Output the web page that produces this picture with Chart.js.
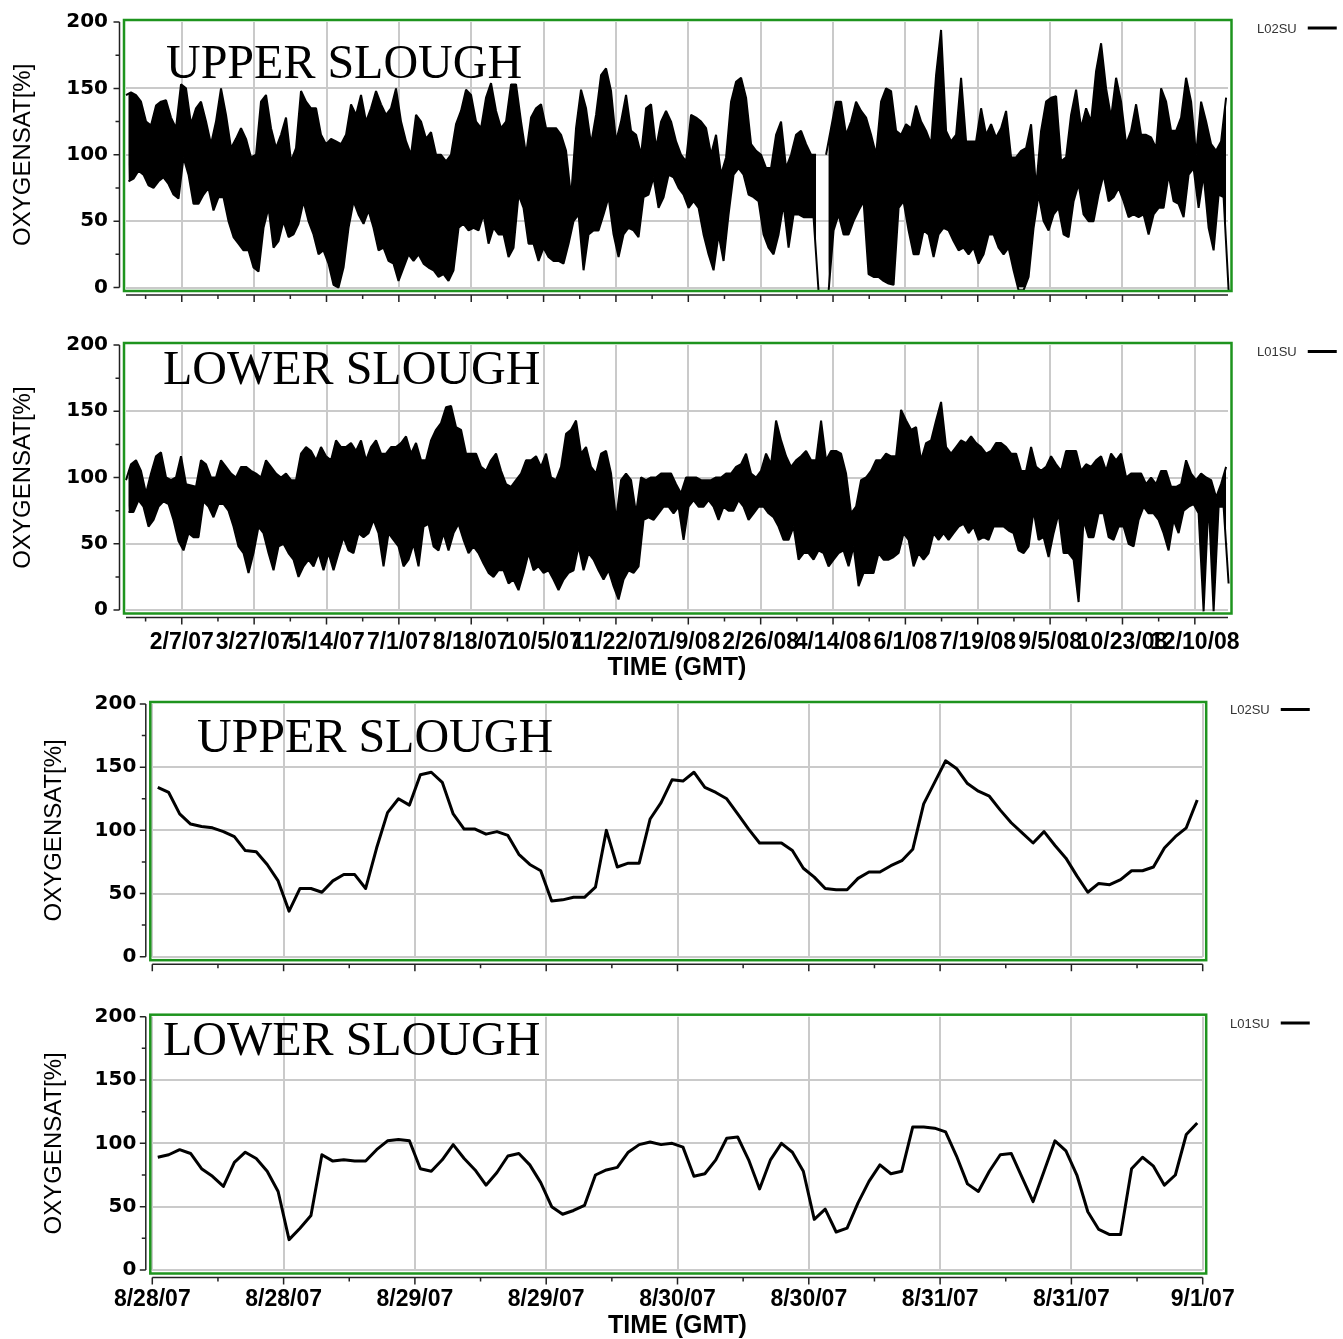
<!DOCTYPE html>
<html>
<head>
<meta charset="utf-8">
<title>Oxygen saturation - upper and lower slough</title>
<script src="https://cdn.jsdelivr.net/npm/chart.js@4.4.1/dist/chart.umd.min.js"></script>
<style>
  html, body { margin: 0; padding: 0; background: #fff; overflow: hidden; }
  body { width: 1343px; height: 1339px; position: relative; }
  canvas { position: absolute; left: 0; }
</style>
</head>
<body>
<canvas id="upperLong" width="1343" height="310" style="top:0px"></canvas>
<canvas id="lowerLong" width="1343" height="372" style="top:318px"></canvas>
<canvas id="upperShort" width="1343" height="300" style="top:690px"></canvas>
<canvas id="lowerShort" width="1343" height="360" style="top:990px"></canvas>
<script>
// ---- tick labels ----
const longTickLabels = ['2/7/07', '3/27/07', '5/14/07', '7/1/07', '8/18/07', '10/5/07', '11/22/07',
    '1/9/08', '2/26/08', '4/14/08', '6/1/08', '7/19/08', '9/5/08', '10/23/08', '12/10/08'];
const shortTickHours = [0, 12, 24, 36, 48, 60, 72, 84, 96];
const shortTickLabels = ['8/28/07', '8/28/07', '8/29/07', '8/29/07', '8/30/07', '8/30/07', '8/31/07', '8/31/07', '9/1/07'];

// ---- long record 1/1/07 - 1/1/09: max and min reading in each bin ----
const LONG_BIN_DAYS = 3.317;
const upperLongHigh = [
    145, 147, 145, 140, 125, 122, 137, 140, 141, 128, 120, 153, 150, 123, 135, 140, 125, 108, 125, 150,
    130, 105, 112, 120, 112, 98, 100, 140, 145, 120, 105, 115, 128, 95, 105, 148, 140, 135, 135, 115,
    108, 112, 110, 108, 115, 138, 130, 145, 125, 135, 148, 138, 130, 135, 150, 125, 110, 100, 130, 125,
    112, 117, 100, 100, 95, 100, 123, 133, 149, 145, 125, 120, 143, 154, 133, 120, 125, 153, 153, 125,
    100, 128, 135, 138, 120, 120, 120, 115, 103, 68, 120, 149, 135, 108, 130, 160, 165, 148, 110, 125,
    145, 118, 115, 100, 135, 138, 105, 125, 133, 125, 110, 100, 95, 130, 128, 125, 120, 100, 115, 85,
    98, 140, 155, 158, 143, 108, 103, 100, 90, 90, 115, 125, 90, 100, 115, 118, 108, 100, 100, null,
    100, 120, 140, 140, 115, 125, 140, 133, 128, 115, 100, 140, 150, 148, 118, 115, 123, 120, 137, 125,
    118, 108, 160, 194, 118, 110, 115, 158, 110, 110, 110, 135, 115, 123, 113, 120, 133, 98, 98, 103,
    105, 123, 75, 118, 140, 143, 144, 95, 98, 130, 149, 120, 135, 125, 163, 184, 150, 128, 158, 140,
    108, 118, 138, 115, 115, 113, 105, 150, 140, 118, 118, 128, 158, 140, 100, 140, 125, 108, 103, 110,
    143
];
const upperLongLow = [
    80, 82, 88, 85, 77, 75, 80, 83, 78, 70, 67, 98, 85, 63, 63, 70, 75, 58, 68, 68,
    50, 38, 33, 28, 28, 15, 12, 45, 60, 30, 35, 50, 38, 40, 48, 65, 50, 40, 25, 28,
    18, 2, 0, 15, 45, 65, 55, 48, 58, 45, 28, 30, 20, 18, 5, 15, 25, 20, 25, 18,
    15, 13, 8, 10, 5, 13, 45, 48, 43, 45, 43, 55, 33, 45, 40, 40, 23, 30, 70, 60,
    33, 33, 20, 30, 23, 20, 20, 18, 33, 50, 55, 13, 40, 43, 43, 55, 68, 40, 23, 40,
    45, 43, 38, 68, 70, 83, 60, 68, 85, 83, 75, 70, 60, 65, 60, 40, 25, 13, 40, 20,
    55, 85, 90, 85, 70, 68, 65, 40, 30, 25, 40, 63, 30, 55, 55, 53, 53, 53, -3, null,
    -3, 43, 55, 40, 40, 50, 58, 65, 10, 8, 8, 5, 3, 2, 60, 65, 43, 25, 25, 43,
    40, 23, 40, 45, 43, 35, 28, 30, 25, 30, 18, 25, 40, 40, 30, 25, 30, 13, -2, -2,
    8, 45, 70, 50, 43, 55, 60, 40, 38, 65, 78, 55, 50, 50, 70, 85, 65, 68, 75, 65,
    53, 55, 53, 55, 40, 55, 60, 60, 85, 65, 63, 53, 85, 90, 60, 85, 45, 28, 70, 68,
    -2
];
const lowerLongHigh = [
    98, 110, 113, 105, 88, 103, 116, 119, 100, 98, 100, 116, 95, 94, 93, 113, 110, 100, 100, 113,
    108, 103, 100, 108, 108, 105, 103, 100, 113, 108, 103, 100, 103, 98, 98, 118, 123, 120, 113, 123,
    116, 113, 128, 123, 123, 126, 120, 128, 113, 123, 128, 118, 118, 123, 123, 126, 131, 118, 126, 113,
    113, 128, 136, 141, 153, 154, 138, 136, 118, 118, 118, 108, 105, 113, 118, 105, 95, 93, 98, 103,
    113, 113, 116, 108, 118, 100, 98, 108, 133, 136, 143, 118, 123, 108, 103, 118, 120, 103, 68, 98,
    103, 98, 73, 100, 98, 100, 100, 103, 103, 103, 95, 88, 100, 100, 100, 98, 98, 98, 100, 100,
    103, 103, 108, 110, 118, 103, 100, 105, 118, 110, 143, 128, 116, 108, 113, 116, 120, 113, 113, 143,
    113, 120, 120, 118, 103, 73, 78, 98, 100, 105, 113, 113, 118, 116, 116, 151, 143, 136, 138, 113,
    126, 128, 143, 157, 123, 118, 123, 128, 126, 131, 126, 123, 118, 120, 126, 126, 123, 118, 118, 105,
    105, 123, 108, 105, 108, 116, 110, 105, 120, 120, 120, 105, 110, 108, 113, 116, 105, 118, 113, 118,
    100, 103, 103, 103, 95, 100, 95, 105, 105, 93, 93, 95, 113, 103, 98, 103, 100, 98, 85, 95,
    108
];
const lowerLongLow = [
    74, 74, 83, 78, 63, 68, 78, 82, 80, 68, 52, 45, 58, 55, 55, 82, 78, 70, 80, 80,
    75, 63, 48, 43, 28, 43, 63, 58, 43, 30, 48, 50, 43, 38, 25, 33, 38, 33, 43, 30,
    43, 30, 43, 55, 45, 43, 58, 55, 58, 68, 58, 33, 58, 53, 48, 33, 38, 50, 33, 63,
    65, 48, 45, 58, 45, 58, 65, 53, 43, 48, 43, 35, 28, 25, 30, 30, 20, 23, 15, 28,
    43, 30, 33, 28, 30, 23, 15, 23, 28, 30, 48, 30, 43, 38, 30, 23, 30, 18, 8, 23,
    30, 28, 33, 68, 70, 68, 73, 78, 78, 73, 78, 53, 78, 83, 78, 78, 83, 78, 68, 78,
    75, 75, 83, 78, 68, 73, 78, 78, 73, 70, 63, 53, 53, 63, 38, 43, 43, 38, 45, 43,
    33, 38, 43, 45, 33, 48, 18, 28, 28, 28, 43, 38, 38, 40, 43, 58, 53, 33, 43, 38,
    43, 58, 53, 58, 53, 58, 63, 65, 58, 63, 53, 55, 53, 63, 63, 63, 60, 58, 45, 43,
    48, 75, 53, 55, 40, 58, 73, 43, 43, 38, 6, 68, 55, 55, 73, 73, 55, 53, 63, 63,
    50, 48, 68, 78, 73, 73, 68, 58, 45, 68, 58, 75, 78, 80, 73, -1, 83, -1, 78, 78,
    20
];

// ---- short record 8/28/07 - 9/1/07: hourly readings ----
const upperShort = [
    134, 130, 113, 105, 103, 102, 99, 95, 84, 83, 73, 60, 36, 54, 54, 51, 60, 65, 65, 54,
    86, 114, 125, 120, 144, 146, 138, 113, 101, 101, 97, 99, 96, 81, 73, 68, 44, 45, 47, 47,
    55, 100, 71, 74, 74, 109, 122, 140, 139, 146, 134, 130, 125, 113, 101, 90, 90, 90, 84, 70,
    63, 54, 53, 53, 62, 67, 67, 72, 76, 85, 121, 138, 155, 149, 137, 131, 127, 116, 106, 98,
    90, 99, 88, 78, 64, 51, 58, 57, 61, 68, 68, 71, 86, 95, 102, 124
];
const lowerShort = [
    89, 91, 95, 92, 80, 74, 66, 85, 93, 88, 78, 62, 24, 33, 43, 91, 86, 87, 86, 86,
    95, 102, 103, 102, 80, 78, 87, 99, 88, 79, 67, 77, 90, 92, 83, 69, 50, 44, 47, 51,
    75, 79, 81, 93, 99, 101, 99, 100, 97, 74, 76, 87, 104, 105, 87, 64, 87, 100, 93, 78,
    40, 48, 30, 33, 53, 70, 83, 76, 78, 113, 113, 112, 109, 90, 68, 62, 78, 91, 92, 73,
    54, 78, 102, 94, 75, 46, 32, 28, 28, 80, 89, 82, 67, 75, 107, 116
];

const SANS = '"Liberation Sans", Arial, sans-serif';
const GRID = '#cacaca';
const FRAME = '#1e941e';

function dayOf(label) {
    const [m, d, y] = label.split('/').map(Number);
    return (Date.UTC(2000 + y, m - 1, d) - Date.UTC(2007, 0, 1)) / 86400000;
}

// the dense record is drawn as the band between its bin maxima and minima
function envelopeDatasets(label, highs, lows) {
    const base = { borderColor: '#000', borderWidth: 2, borderJoinStyle: 'bevel', pointRadius: 0, tension: 0, spanGaps: false, clip: 8 };
    return [
        Object.assign({}, base, {
            label: label,
            data: highs.map((v, i) => ({ x: i * LONG_BIN_DAYS, y: v })),
            fill: '+1',
            backgroundColor: '#000'
        }),
        Object.assign({}, base, {
            label: label + ' min',
            data: lows.map((v, i) => ({ x: (i + 0.5) * LONG_BIN_DAYS, y: v })),
            fill: false
        })
    ];
}

function hourlyDataset(label, values) {
    return [{
        label: label,
        data: values.map((v, i) => ({ x: i + 0.5, y: v })),
        borderColor: '#000',
        borderWidth: 3,
        borderJoinStyle: 'round',
        pointRadius: 0,
        tension: 0,
        fill: false,
        clip: 8
    }];
}

function minorsBetween(scale) {
    const majors = scale.ticks.map(t => t.value);
    const half = (majors[1] - majors[0]) / 2;
    const out = [];
    majors.forEach(v => {
        [v - half, v + half].forEach(m => {
            if (m >= scale.min && m <= scale.max && !out.includes(m)) out.push(m);
        });
    });
    return out;
}

// axis lines offset from the plot, green frame, panel title and legend
const panelDecor = {
    id: 'panelDecor',
    afterDatasetsDraw(chart, args, opts) {
        const { ctx, chartArea: a } = chart;
        const x = chart.scales.x, y = chart.scales.y;
        const axisX = a.left - 6.5, axisY = a.bottom + 7.5;
        ctx.save();

        ctx.strokeStyle = '#222';
        ctx.lineWidth = 1.5;
        ctx.beginPath();
        ctx.moveTo(axisX, a.top);
        ctx.lineTo(axisX, a.bottom);
        y.ticks.forEach(t => {
            const p = y.getPixelForValue(t.value);
            ctx.moveTo(axisX, p);
            ctx.lineTo(axisX - 6, p);
        });
        minorsBetween(y).forEach(v => {
            const p = y.getPixelForValue(v);
            ctx.moveTo(axisX, p);
            ctx.lineTo(axisX - 4, p);
        });
        ctx.moveTo(a.left, axisY);
        ctx.lineTo(a.right, axisY);
        x.ticks.forEach(t => {
            const p = x.getPixelForValue(t.value);
            ctx.moveTo(p, axisY);
            ctx.lineTo(p, axisY + 7);
        });
        minorsBetween(x).forEach(v => {
            const p = x.getPixelForValue(v);
            ctx.moveTo(p, axisY);
            ctx.lineTo(p, axisY + 4);
        });
        ctx.stroke();

        ctx.strokeStyle = FRAME;
        ctx.lineWidth = 2.5;
        ctx.strokeRect(a.left - 2, a.top - 2, a.right - a.left + 5.5, a.bottom - a.top + 5.5);

        ctx.fillStyle = '#000';
        ctx.textBaseline = 'alphabetic';
        ctx.textAlign = 'left';
        ctx.font = '48px "Liberation Serif", "Times New Roman", serif';
        ctx.fillText(opts.title, opts.titleX, opts.titleY);

        const label = chart.data.datasets[0].label;
        ctx.font = '13px ' + SANS;
        ctx.fillStyle = '#333';
        ctx.textBaseline = 'middle';
        ctx.fillText(label, opts.legendX, opts.legendY);
        const lx = opts.legendX + ctx.measureText(label).width + 11;
        ctx.strokeStyle = '#000';
        ctx.lineWidth = 3;
        ctx.beginPath();
        ctx.moveTo(lx, opts.legendY - 1);
        ctx.lineTo(lx + 29, opts.legendY - 1);
        ctx.stroke();

        ctx.restore();
    }
};

function buildPanel(id, cfg) {
    return new Chart(document.getElementById(id), {
        type: 'line',
        data: { datasets: cfg.datasets },
        options: {
            responsive: false,
            animation: false,
            events: [],
            layout: { padding: cfg.padding, autoPadding: false },
            plugins: {
                legend: { display: false },
                tooltip: { enabled: false },
                filler: { drawTime: 'beforeDatasetDraw' },
                panelDecor: cfg.decor
            },
            scales: {
                x: {
                    type: 'linear',
                    min: cfg.xMin,
                    max: cfg.xMax,
                    afterBuildTicks: s => { s.ticks = cfg.tickValues.map(v => ({ value: v })); },
                    afterFit: s => {
                        s.height = cfg.xHeight;
                        s.paddingLeft = 0;
                        s.paddingRight = 0;
                    },
                    grid: { color: GRID, lineWidth: 2, drawTicks: false },
                    border: { display: false },
                    ticks: {
                        display: cfg.showLabels,
                        autoSkip: false,
                        minRotation: 0,
                        maxRotation: 0,
                        padding: cfg.labelPad,
                        color: '#000',
                        font: { family: SANS, size: 23, weight: 'bold' },
                        callback: (v, i) => cfg.tickLabels[i]
                    },
                    title: {
                        display: cfg.showLabels,
                        text: 'TIME (GMT)',
                        color: '#000',
                        font: { family: SANS, size: 25, weight: 'bold' },
                        padding: { top: 0, bottom: cfg.titlePad }
                    }
                },
                y: {
                    min: 0,
                    max: 200,
                    afterFit: s => {
                        s.width = cfg.yWidth;
                        s.paddingTop = 0;
                        s.paddingBottom = 0;
                    },
                    grid: {
                        color: c => (c.tick && c.tick.value === 200 ? 'rgba(0,0,0,0)' : GRID),
                        lineWidth: 2,
                        drawTicks: false
                    },
                    border: { display: false },
                    ticks: {
                        stepSize: 50,
                        padding: cfg.yLabelPad,
                        color: '#000',
                        font: { family: '"DejaVu Sans", sans-serif', size: 20, weight: 'bold' }
                    },
                    title: {
                        display: true,
                        text: 'OXYGENSAT[%]',
                        color: '#000',
                        font: { family: SANS, size: 24 },
                        padding: 0
                    }
                }
            }
        },
        plugins: [panelDecor]
    });
}

const longTickDays = longTickLabels.map(dayOf);
const longEnd = dayOf('1/1/09');

buildPanel('upperLong', {
    datasets: envelopeDatasets('L02SU', upperLongHigh, upperLongLow),
    xMin: 0, xMax: longEnd, tickValues: longTickDays, tickLabels: longTickLabels,
    showLabels: false, labelPad: 0, titlePad: 0,
    padding: { left: 8.6, right: 115, top: 22, bottom: 0 },
    xHeight: 22.5, yWidth: 117.4, yLabelPad: 18,
    decor: { title: 'UPPER SLOUGH', titleX: 166, titleY: 78, legendX: 1257, legendY: 29 }
});

buildPanel('lowerLong', {
    datasets: envelopeDatasets('L01SU', lowerLongHigh, lowerLongLow),
    xMin: 0, xMax: longEnd, tickValues: longTickDays, tickLabels: longTickLabels,
    showLabels: true, labelPad: 19.2, titlePad: 6.6,
    padding: { left: 8.6, right: 115, top: 27, bottom: 0 },
    xHeight: 80, yWidth: 117.4, yLabelPad: 18,
    decor: { title: 'LOWER SLOUGH', titleX: 163, titleY: 66, legendX: 1257, legendY: 34.5 }
});

buildPanel('upperShort', {
    datasets: hourlyDataset('L02SU', upperShort),
    xMin: 0, xMax: 96, tickValues: shortTickHours, tickLabels: shortTickLabels,
    showLabels: false, labelPad: 0, titlePad: 0,
    padding: { left: 39.6, right: 140.3, top: 14, bottom: 0 },
    xHeight: 33.3, yWidth: 112.7, yLabelPad: 16,
    decor: { title: 'UPPER SLOUGH', titleX: 197, titleY: 61.7, legendX: 1230, legendY: 20.5 }
});

buildPanel('lowerShort', {
    datasets: hourlyDataset('L01SU', lowerShort),
    xMin: 0, xMax: 96, tickValues: shortTickHours, tickLabels: shortTickLabels,
    showLabels: true, labelPad: 16.2, titlePad: 8.9,
    padding: { left: 39.6, right: 140.3, top: 26.7, bottom: 0 },
    xHeight: 80, yWidth: 112.7, yLabelPad: 16,
    decor: { title: 'LOWER SLOUGH', titleX: 163, titleY: 65, legendX: 1230, legendY: 34 }
});
</script>
</body>
</html>
